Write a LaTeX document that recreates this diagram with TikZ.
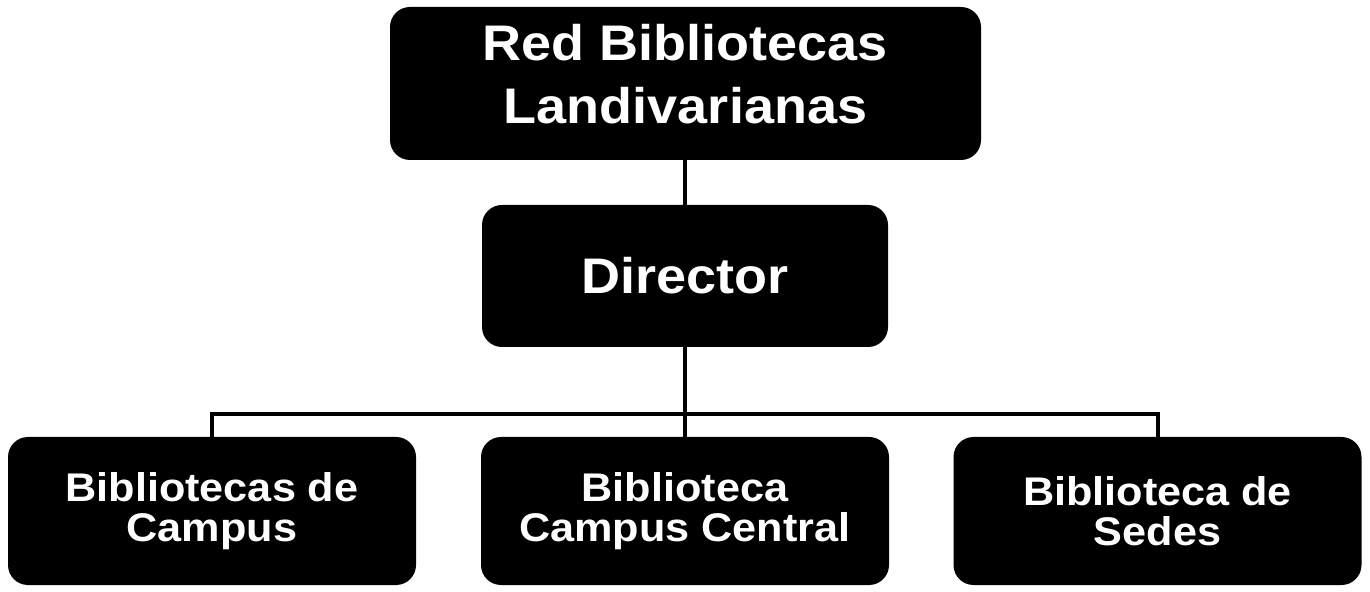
\documentclass[tikz,border=0pt]{standalone}
\usepackage{fontspec}
\setmainfont{Liberation Sans}
\newfontfamily\boxfont{Liberation Sans Bold}[FakeStretch=1.08]
\begin{document}
\begin{tikzpicture}[x=0.5pt,y=-0.5pt,
    unit/.style={fill=black,rounded corners=10pt,text=white,align=center,inner sep=0pt},
    big/.style={unit,font=\fontsize{25}{31.5}\boxfont},
    small/.style={unit,minimum width=204pt,minimum height=74pt,font=\fontsize{20}{20}\boxfont},
    link/.style={line width=2pt}]
  \useasboundingbox (0,0) rectangle (1370,592);
  \node[big,minimum width=295.5pt,minimum height=76.5pt] (red) at (685.5,83.5) {Red Bibliotecas\\Landivarianas\rule[-10pt]{0pt}{0pt}};
  \node[big,minimum width=203pt,minimum height=71pt] (dir) at (685,276) {Director};
  \node[small] (campus) at (212,511) {Bibliotecas de\\Campus};
  \node[small] (central) at (685,511) {Biblioteca\\Campus Central};
  \node[small] (sedes) at (1157.5,511) {Biblioteca de\\Sedes};
  \coordinate (fork) at (685,414);
  \draw[link] (dir.north |- red.south) -- (dir.north);
  \draw[link] (dir.south) -- (fork) -- (central.north);
  \draw[link] (campus.north) -- (campus.north |- fork) -- (sedes.north |- fork) -- (sedes.north);
\end{tikzpicture}
\end{document}
